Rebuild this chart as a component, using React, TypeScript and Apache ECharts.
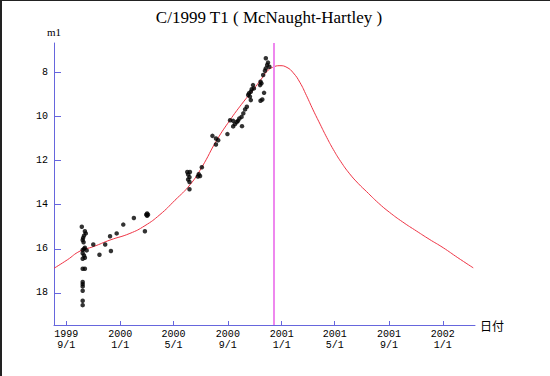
import React, { useEffect, useRef } from 'react';
import * as echarts from 'echarts';

// Observation days are counted from 2000-01-01 (day 0)
const obsDay = [
  -87, -80, -78, -82, -84, -85, -83, -80, -82, -85, -76, -85, -82, -80, -85, -85, -80, -85, -85, -85, -85, -85, -85,
  -61, -47, -34, -23, -21, -8, 7, 31, 56, 59, 61, 63, 61,
  152, 158, 154, 157, 154, 157, 157, 178, 181, 176, 185,
  209, 217, 222, 217, 243, 249,
  256, 256, 260, 264, 267, 270, 275, 276, 279, 283, 287, 290, 292, 294, 296, 296, 298, 301, 303,
  317, 318, 320, 324, 328, 330, 333, 338, 335, 330, 326, 322, 318,
];
const obsMag = [
  15.0, 15.2, 15.3, 15.4, 15.5, 15.6, 15.7, 15.95, 16.0, 16.05, 16.07, 16.2, 16.3, 16.4, 16.45, 16.9, 16.9, 17.5, 17.6, 17.7, 17.9, 18.35, 18.55,
  15.8, 16.27, 15.8, 15.43, 16.1, 15.3, 14.9, 14.6, 15.2, 14.45, 14.4, 14.45, 14.5,
  12.52, 12.52, 12.63, 12.75, 12.86, 12.97, 13.3, 12.62, 12.7, 12.72, 12.3,
  10.88, 11.0, 11.08, 11.27, 10.8, 10.17,
  10.45, 10.2, 10.35, 10.25, 10.2, 10.09, 10.02, 10.44, 9.86, 9.68, 9.56, 9.03, 8.95, 9.1, 8.88, 9.26, 8.77, 8.58, 8.73,
  8.58, 8.43, 8.5, 8.12, 7.93, 7.82, 7.67, 7.75, 7.56, 7.36, 8.93, 9.23, 9.29,
];

const curveDay = [
  -150, -120, -91, -61, -23, 22, 56, 90, 124, 158, 185, 219, 249, 275, 301, 320, 332, 345, 362, 378, 392,
  407, 422, 437, 453, 468, 483, 500, 520, 540, 558, 585, 610, 640, 672, 700, 732, 765, 800,
];
const curveMag = [
  16.88, 16.5, 16.1, 15.9, 15.6, 15.3, 14.95, 14.45, 13.8, 13.1, 12.3, 11.07, 10.16, 9.45, 8.8, 8.3, 7.97, 7.78, 7.7, 7.78, 8.02,
  8.45, 9.05, 9.7, 10.35, 10.95, 11.5, 12.05, 12.6, 13.05, 13.4, 13.92, 14.34, 14.78, 15.2, 15.56, 15.95, 16.4, 16.86,
];

const tickDay = [-122, 0, 121, 244, 366, 486, 609, 731];
const tickLabels = ['1999\n9/1', '2000\n1/1', '2000\n5/1', '2000\n9/1', '2001\n1/1', '2001\n5/1', '2001\n9/1', '2002\n1/1'];
const magTicks = [8, 10, 12, 14, 16, 18];
const perihelionDay = 347;

const AXIS_COLOR = '#6666dd';
const TICK_FONT = '"Liberation Mono", monospace';

export default function App() {
  const ref = useRef<HTMLDivElement>(null);
  useEffect(() => {
    if (!ref.current) return;
    const chart = echarts.init(ref.current, null, { renderer: 'svg' });
    chart.setOption({
      animation: false,
      backgroundColor: '#ffffff',
      title: {
        text: 'C/1999 T1 ( McNaught-Hartley )',
        left: 264,
        top: 4,
        textAlign: 'center',
        textStyle: { fontFamily: '"Liberation Serif", serif', fontSize: 17, fontWeight: 'normal', color: '#000' },
      },
      grid: { left: 54, top: 43, width: 421, height: 282, containLabel: false },
      xAxis: {
        type: 'value',
        min: -150,
        max: 804,
        name: '日付',
        nameLocation: 'end',
        nameGap: 5,
        nameTextStyle: { fontFamily: '"Noto Sans CJK JP", sans-serif', fontSize: 12, color: '#000', verticalAlign: 'middle' },
        axisLine: { show: true, onZero: false, lineStyle: { color: AXIS_COLOR, width: 1 } },
        axisTick: { show: true, inside: true, length: 4, customValues: tickDay, lineStyle: { color: AXIS_COLOR } },
        axisLabel: {
          customValues: tickDay,
          formatter: (v: number) => {
            const i = tickDay.indexOf(Math.round(v));
            return i >= 0 ? tickLabels[i] : '';
          },
          margin: 4,
          lineHeight: 11,
          fontFamily: TICK_FONT,
          fontSize: 10,
          color: '#000',
        },
        splitLine: { show: false },
      },
      yAxis: {
        type: 'value',
        inverse: true,
        min: 6.672,
        max: 19.45,
        name: 'm1',
        nameLocation: 'start',
        nameGap: 6,
        nameTextStyle: { fontFamily: '"Liberation Serif", serif', fontSize: 11, color: '#000' },
        axisLine: { show: true, onZero: false, lineStyle: { color: AXIS_COLOR, width: 1 } },
        axisTick: { show: true, inside: true, length: 7, customValues: magTicks, lineStyle: { color: AXIS_COLOR } },
        axisLabel: {
          customValues: magTicks,
          margin: 6,
          fontFamily: TICK_FONT,
          fontSize: 10,
          color: '#000',
        },
        splitLine: { show: false },
      },
      series: [
        {
          type: 'line',
          data: curveDay.map((d, i) => [d, curveMag[i]]),
          smooth: 0.5,
          showSymbol: false,
          symbol: 'none',
          lineStyle: { color: '#ee3344', width: 1 },
          markLine: {
            silent: true,
            symbol: ['none', 'none'],
            label: { show: false },
            lineStyle: { color: '#ee88ee', width: 2, type: 'solid' },
            data: [{ xAxis: perihelionDay }],
          },
          z: 2,
        },
        {
          type: 'scatter',
          data: obsDay.map((d, i) => [d, obsMag[i]]),
          symbol: 'circle',
          symbolSize: 4.5,
          itemStyle: { color: '#000' },
          z: 3,
        },
      ],
      graphic: [
        { type: 'rect', left: 0, top: 0, shape: { width: 2, height: 376 }, style: { fill: '#222' } },
        { type: 'rect', left: 0, top: 0, shape: { width: 550, height: 1 }, style: { fill: '#222' } },
      ],
    });
    return () => chart.dispose();
  }, []);
  return (
    <div
      ref={ref}
      style={{ position: 'absolute', left: 0, top: 0, width: 550, height: 376, background: '#fff' }}
    />
  );
}
